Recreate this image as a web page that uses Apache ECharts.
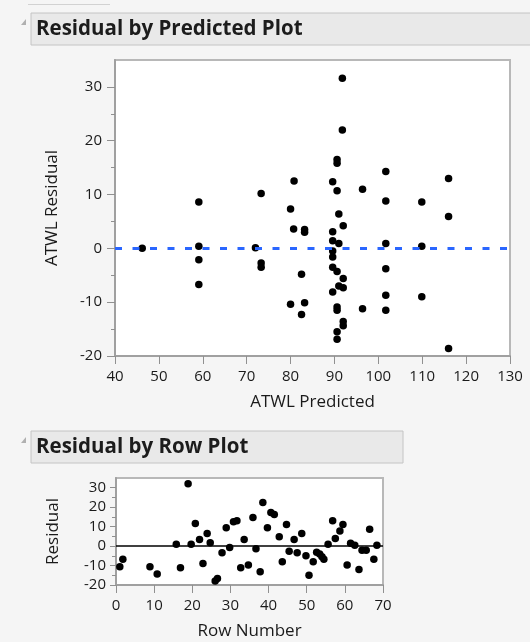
<!DOCTYPE html>
<html>
<head>
<meta charset="UTF-8">
<title>Residual plots</title>
<script src="https://cdn.jsdelivr.net/npm/echarts@6/dist/echarts.min.js"></script>
<style>
  html, body { margin: 0; padding: 0; background: #f5f5f5; }
  #chart { width: 530px; height: 642px; }
</style>
</head>
<body>
<div id="chart"></div>
<script>
// residual by predicted
var predX = [46.2,
  59.1, 59.1, 59.1, 59.1,
  72.0, 73.3, 73.3, 73.3,
  80.0, 80.8, 80.7, 80.0, 83.2, 83.2, 82.5, 83.2, 82.5,
  91.8, 91.8, 90.6, 90.6, 89.6, 90.6, 91.0, 92.0, 89.6, 89.6, 91.0, 89.6, 89.6, 89.6, 90.6, 92.0, 91.0, 92.0, 89.6, 90.6, 90.6, 92.0, 92.0, 90.6, 90.6,
  96.4, 96.4,
  101.7, 101.7, 101.7, 101.7, 101.7, 101.7,
  109.9, 109.9, 109.9,
  116.0, 116.0, 116.0];
var predResid = [0.0,
  8.6, 0.4, -2.1, -6.7,
  0.1, 10.2, -2.7, -3.5,
  7.3, 12.5, 3.6, -10.4, 3.0, 3.5, -4.8, -10.1, -12.3,
  31.6, 22.0, 16.5, 15.8, 12.4, 10.7, 6.4, 4.2, 3.1, 1.4, 0.9, -0.5, -1.6, -3.5, -4.3, -5.6, -7.0, -7.3, -8.1, -10.9, -11.5, -13.6, -14.4, -15.5, -16.9,
  11.0, -11.2,
  14.3, 8.8, 0.9, -3.8, -8.7, -11.5,
  8.6, 0.4, -9.0,
  13.0, 5.9, -18.6];

// residual by row
var rowNum = [1.0, 1.8, 8.9, 10.8, 15.8, 16.9, 18.9, 19.7, 20.8, 21.9, 22.8, 23.9, 24.7, 26.0, 26.6, 27.8, 28.9, 29.8,
  30.8, 31.7, 32.7, 33.6, 34.7, 35.9, 36.7, 37.8, 38.5, 39.7, 40.6, 41.5, 42.8, 43.6, 44.7, 45.4, 46.7, 47.5, 48.7, 49.8,
  50.6, 51.7, 52.6, 53.4, 54.0, 54.5, 55.6, 56.8, 57.5, 58.7, 59.5, 60.6, 61.5, 62.6, 63.7, 64.5, 65.6, 66.5, 67.6, 68.4];
var rowResid = [-10.6, -6.7, -10.6, -14.4, 1.0, -11.1, 32.1, 1.0, 11.6, 3.4, -8.9, 6.5, 1.7, -17.9, -16.6, -3.4, 9.4, -0.7,
  12.5, 13.0, -11.1, 3.4, -9.7, 14.7, -1.4, -13.2, 22.4, 9.4, 17.3, 16.2, 4.8, -8.0, 11.1, -2.6, 3.4, -3.4, 6.5, -5.0,
  -15.0, -8.0, -3.2, -4.1, -5.5, -6.7, 1.0, 13.0, 3.9, 7.7, 11.1, -9.7, 1.4, 0.4, -12.0, -2.1, -2.1, 8.6, -6.7, 0.4];

var predTicks = [40, 50, 60, 70, 80, 90, 100, 110, 120, 130];
var rowTicks = [0, 10, 20, 30, 40, 50, 60, 70];
var residTicks = [-20, -10, 0, 10, 20, 30];
var residMinor = [-15, -5, 5, 15, 25];

var font = "'Open Sans', 'DejaVu Sans', sans-serif";
var txt = '#1a1a1a';

function zip(a, b) {
  var out = [];
  for (var i = 0; i < a.length; i++) out.push([a[i], b[i]]);
  return out;
}

function header(x, y, w, label) {
  return [{
    type: 'rect',
    shape: { x: x, y: y, width: w, height: 32 },
    style: { fill: '#e9e9e9', stroke: '#c4c4c4', lineWidth: 1 }
  }, {
    type: 'polygon',
    shape: { points: [[x - 10, y + 12], [x - 5, y + 6], [x - 5, y + 12]] },
    style: { fill: '#b0b0b0' }
  }, {
    type: 'text',
    x: x + 5, y: y + 16,
    style: { text: label, font: 'bold 20.5px ' + font, fill: '#1c1c1c', textVerticalAlign: 'middle' }
  }];
}

function yAxes(gridIndex, name, gap, tickLen, minorLen, labelMargin) {
  return [{
    type: 'value', gridIndex: gridIndex, min: -20, max: 35, position: 'left',
    name: name, nameLocation: 'middle', nameGap: gap,
    nameTextStyle: { fontFamily: font, fontSize: 17, color: txt },
    axisLine: { show: true, onZero: false, lineStyle: { color: '#a0a0a0', width: 2 } },
    axisTick: { show: true, customValues: residTicks, length: tickLen, lineStyle: { color: '#909090' } },
    axisLabel: { customValues: residTicks, margin: labelMargin, fontFamily: font, fontSize: 15, color: txt },
    splitLine: { show: false }
  }, {
    type: 'value', gridIndex: gridIndex, min: -20, max: 35, position: 'left',
    axisLine: { show: false, onZero: false },
    axisTick: { show: true, customValues: residMinor, length: minorLen, lineStyle: { color: '#909090' } },
    axisLabel: { show: false },
    splitLine: { show: false }
  }];
}

var myChart = echarts.init(document.getElementById('chart'));

var option = {
  backgroundColor: '#f5f5f5',
  animation: false,
  graphic: [{
    type: 'line',
    shape: { x1: 28, y1: 4.5, x2: 110, y2: 4.5 },
    style: { stroke: '#d2d2d2', lineWidth: 1 }
  }].concat(header(31, 13, 520, 'Residual by Predicted Plot'))
    .concat(header(31, 431, 372, 'Residual by Row Plot')),
  grid: [
    { left: 115, top: 60, width: 395, height: 296, show: true, backgroundColor: '#ffffff', borderColor: '#b8b8b8', borderWidth: 2 },
    { left: 116, top: 478, width: 267, height: 107, show: true, backgroundColor: '#ffffff', borderColor: '#b8b8b8', borderWidth: 2 }
  ],
  xAxis: [{
    type: 'value', gridIndex: 0, min: 40, max: 130, interval: 10, position: 'bottom',
    name: 'ATWL Predicted', nameLocation: 'middle', nameGap: 38,
    nameTextStyle: { fontFamily: font, fontSize: 17, color: txt },
    axisLine: { onZero: false, lineStyle: { color: '#a0a0a0', width: 2 } },
    axisTick: { customValues: predTicks, length: 8, lineStyle: { color: '#909090' } },
    axisLabel: { customValues: predTicks, margin: 13, fontFamily: font, fontSize: 15, color: txt },
    splitLine: { show: false }
  }, {
    type: 'value', gridIndex: 1, min: 0, max: 70, interval: 10, position: 'bottom',
    name: 'Row Number', nameLocation: 'middle', nameGap: 38,
    nameTextStyle: { fontFamily: font, fontSize: 17, color: txt },
    axisLine: { onZero: false, lineStyle: { color: '#a0a0a0', width: 2 } },
    axisTick: { customValues: rowTicks, length: 8, lineStyle: { color: '#909090' } },
    axisLabel: { customValues: rowTicks, margin: 13, fontFamily: font, fontSize: 15, color: txt },
    splitLine: { show: false }
  }],
  yAxis: yAxes(0, 'ATWL Residual', 54, 8, 4, 13).concat(yAxes(1, 'Residual', 54, 6, 4, 10)),
  series: [{
    type: 'scatter', xAxisIndex: 0, yAxisIndex: 0,
    data: zip(predX, predResid),
    symbolSize: 7.5,
    itemStyle: { color: '#000000', opacity: 1 },
    markLine: {
      silent: true, symbol: 'none', label: { show: false },
      lineStyle: { color: '#2a66ff', width: 3, type: [7, 10.5] },
      data: [{ yAxis: 0 }]
    }
  }, {
    type: 'scatter', xAxisIndex: 1, yAxisIndex: 2,
    data: zip(rowNum, rowResid),
    symbolSize: 7.5,
    itemStyle: { color: '#000000', opacity: 1 },
    markLine: {
      silent: true, symbol: 'none', label: { show: false },
      lineStyle: { color: '#000000', width: 1.5, type: 'solid' },
      data: [{ yAxis: 0 }]
    }
  }]
};

myChart.setOption(option);
</script>
</body>
</html>
